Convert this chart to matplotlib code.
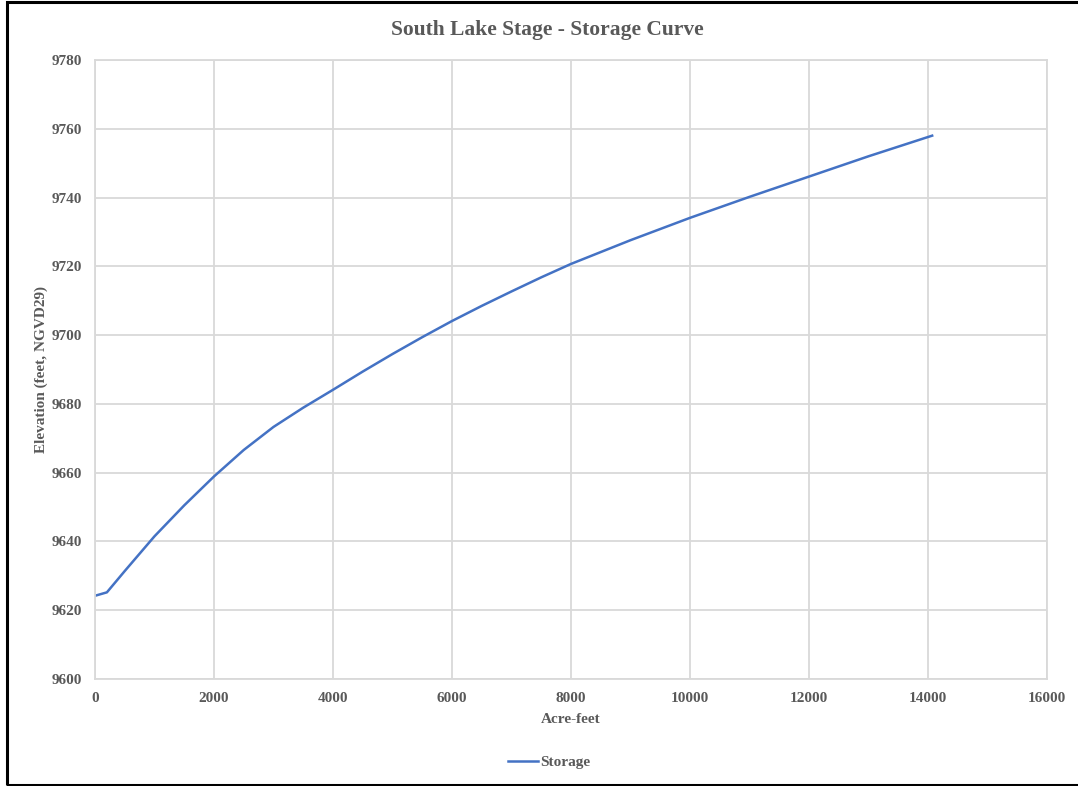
import matplotlib
matplotlib.use('Agg')
import matplotlib.pyplot as plt
from matplotlib.patches import Rectangle

# stage-storage curve
acre_feet = [0, 200, 500, 1000, 1500, 2000, 2500, 3000, 3500, 4000, 4500, 5000, 5500,
             6000, 6500, 7000, 7500, 8000, 9000, 10000, 11000, 12000, 13000, 14070]
elevation = [9624.2, 9625.2, 9631.4, 9641.5, 9650.5, 9658.9, 9666.6, 9673.3, 9678.9,
             9684.1, 9689.4, 9694.5, 9699.4, 9704.1, 9708.5, 9712.7, 9716.8, 9720.7,
             9727.6, 9734.1, 9740.2, 9746.1, 9752.0, 9758.0]

x_ticks = list(range(0, 16001, 2000))
y_ticks = list(range(9600, 9781, 20))

text_col = '#595959'
grid_col = '#d9d9d9'
plt.rcParams['font.family'] = ['Liberation Serif', 'DejaVu Serif']
plt.rcParams['font.weight'] = 'bold'

fig = plt.figure(figsize=(10.78, 7.86), dpi=100)
ax = fig.add_axes([95 / 1078, 107 / 786, 952 / 1078, 619 / 786])

ax.plot(acre_feet, elevation, color='#4472C4', linewidth=1.8, label='Storage',
        solid_joinstyle='round')

ax.set_xlim(0, 16000)
ax.set_ylim(9600, 9780)
ax.set_xticks(x_ticks)
ax.set_yticks(y_ticks)
ax.grid(True, color=grid_col, linewidth=1.3)
ax.set_axisbelow(True)
for s in ax.spines.values():
    s.set_color(grid_col)
    s.set_linewidth(1.3)
ax.tick_params(length=0, pad=9, labelsize=11, labelcolor=text_col)
for lab in ax.get_xticklabels() + ax.get_yticklabels():
    lab.set_fontweight('bold')

ax.set_xlabel('Acre-feet', fontsize=11, fontweight='bold', color=text_col)
ax.set_ylabel('Elevation (feet, NGVD29)', fontsize=11, fontweight='bold', color=text_col)
ax.xaxis.set_label_coords(0.5, -0.055)
ax.yaxis.set_label_coords(-0.049, 0.5)

fig.text(547 / 1078, 1 - 30 / 786, 'South Lake Stage - Storage Curve', ha='center', va='center',
         fontsize=15.5, fontweight='bold', color=text_col)

leg = fig.legend(loc='center', bbox_to_anchor=(549 / 1078, 24 / 786), frameon=False,
                 fontsize=11, handlelength=2.0, handletextpad=0.15)
for t in leg.get_texts():
    t.set_color(text_col)
    t.set_fontweight('bold')

# outer border (right side runs off the image)
fig.patches.append(Rectangle((6.5 / 1078, 1.5 / 786), 1.1, 783 / 786, transform=fig.transFigure,
                             fill=False, edgecolor='black', linewidth=2.2))

fig.savefig('out.png', dpi=100)
